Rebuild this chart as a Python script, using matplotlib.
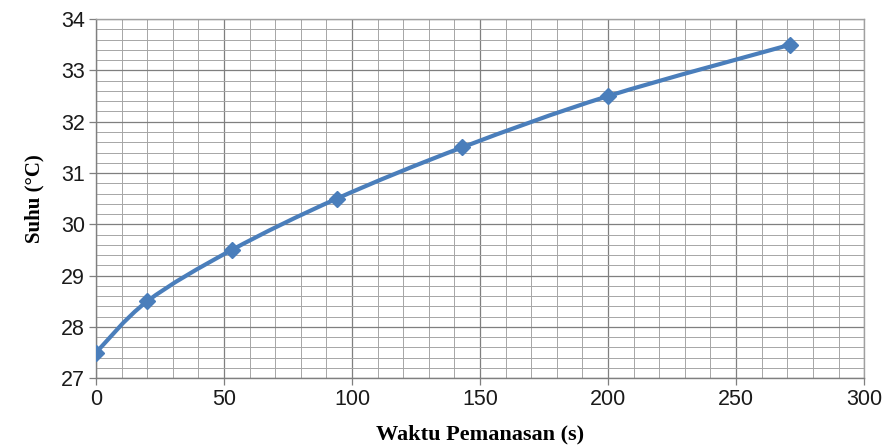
import matplotlib
matplotlib.use("Agg")
import matplotlib.pyplot as plt
import numpy as np
from matplotlib.path import Path
from matplotlib.patches import PathPatch
from matplotlib.ticker import MultipleLocator

# data
waktu = [0, 20, 53, 94, 143, 200, 271]
suhu = [27.5, 28.5, 29.5, 30.5, 31.5, 32.5, 33.5]

blue = "#4a7ebb"

fig = plt.figure(figsize=(8.89, 4.45), dpi=100)
ax = fig.add_axes([0.108, 0.150, 0.864, 0.807])

# smoothed line like Excel: cubic bezier segments through the data points
x = np.array(waktu, dtype=float)
y = np.array(suhu, dtype=float)
verts = [(x[0], y[0])]
codes = [Path.MOVETO]
t = 1 / 6
for i in range(len(x) - 1):
    x0, y0 = (x[i - 1], y[i - 1]) if i > 0 else (x[i], y[i])
    x3, y3 = (x[i + 2], y[i + 2]) if i + 2 < len(x) else (x[i + 1], y[i + 1])
    c1 = (x[i] + (x[i + 1] - x0) * t, y[i] + (y[i + 1] - y0) * t)
    c2 = (x[i + 1] - (x3 - x[i]) * t, y[i + 1] - (y3 - y[i]) * t)
    verts += [c1, c2, (x[i + 1], y[i + 1])]
    codes += [Path.CURVE4] * 3
ax.add_patch(PathPatch(Path(verts, codes), fill=False, edgecolor=blue, lw=3.0, zorder=3))
ax.plot(waktu, suhu, ls="none", marker="D", ms=8.5, color=blue, zorder=4)

ax.set_xlim(0, 300)
ax.set_ylim(27, 34)
ax.xaxis.set_major_locator(MultipleLocator(50))
ax.xaxis.set_minor_locator(MultipleLocator(10))
ax.yaxis.set_major_locator(MultipleLocator(1))
ax.yaxis.set_minor_locator(MultipleLocator(0.2))

ax.grid(which="major", color="#7f7f7f", lw=0.9)
ax.grid(which="minor", color="#a6a6a6", lw=0.7)
ax.set_axisbelow(True)

for s in ax.spines.values():
    s.set_color("#a0a0a0")
    s.set_linewidth(1.0)
ax.spines["left"].set_color("#7f7f7f")
ax.spines["bottom"].set_color("#7f7f7f")

ax.tick_params(which="major", length=5, width=0.9, color="#7f7f7f",
               labelsize=15.5, labelcolor="#1a1a1a", pad=3)
ax.tick_params(which="minor", length=0)
for lbl in ax.get_xticklabels() + ax.get_yticklabels():
    lbl.set_family("Liberation Sans")

ax.set_xlabel("Waktu Pemanasan (s)", family="Liberation Serif", fontweight="bold",
              fontsize=16, labelpad=10)
ax.set_ylabel("Suhu (°C)", family="Liberation Serif", fontweight="bold",
              fontsize=15, labelpad=12)

fig.savefig("out.png", dpi=100)
